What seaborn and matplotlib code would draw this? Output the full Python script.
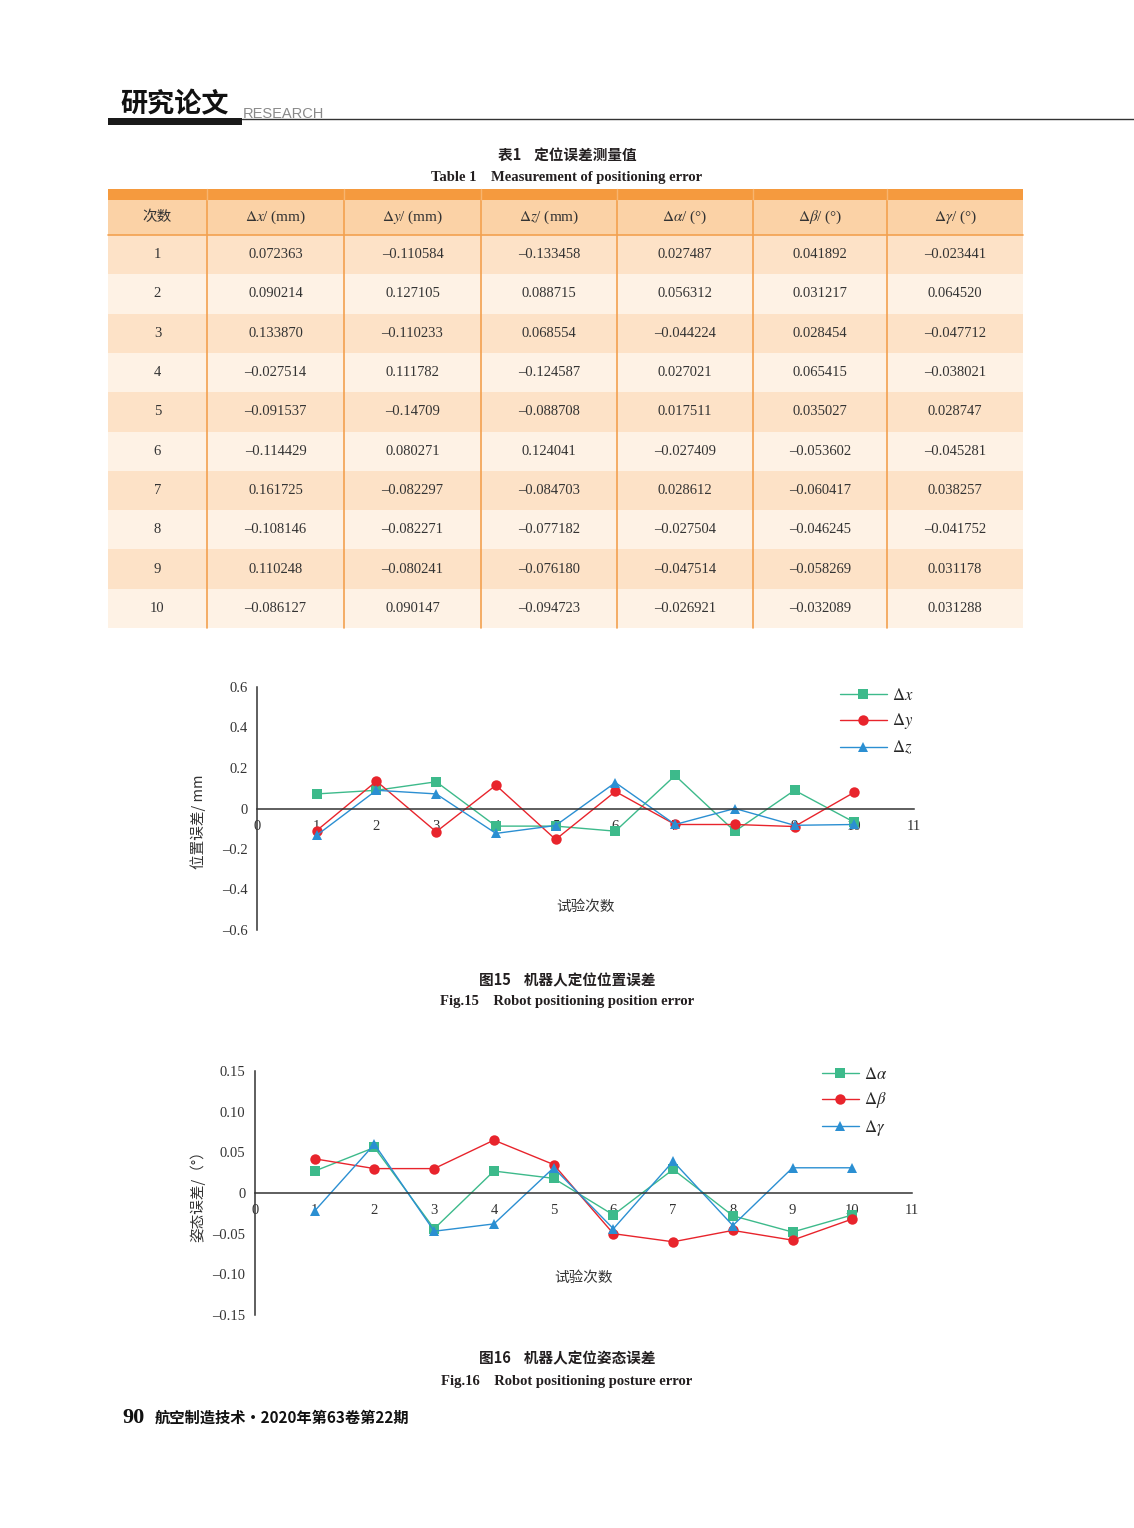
import numpy as np
import pandas as pd
import seaborn as sns
import matplotlib.pyplot as plt
from matplotlib.patches import Rectangle
from matplotlib.ticker import FuncFormatter

sns.set_style('white')
plt.rcParams['font.family'] = ['Liberation Serif', 'Noto Sans CJK SC', 'DejaVu Sans']
plt.rcParams['mathtext.fontset'] = 'stix'
plt.rcParams['axes.unicode_minus'] = False

CJK = ['Noto Sans CJK SC', 'DejaVu Sans']
SERIF = ['Liberation Serif', 'Noto Sans CJK SC']

# ---- table 1 data (as printed) ----
runs = ['1', '2', '3', '4', '5', '6', '7', '8', '9', '10']
dx_tab = ['0.072363', '0.090214', '0.133870', '–0.027514', '–0.091537',
          '–0.114429', '0.161725', '–0.108146', '0.110248', '–0.086127']
dy_tab = ['–0.110584', '0.127105', '–0.110233', '0.111782', '–0.14709',
          '0.080271', '–0.082297', '–0.082271', '–0.080241', '0.090147']
dz_tab = ['–0.133458', '0.088715', '0.068554', '–0.124587', '–0.088708',
          '0.124041', '–0.084703', '–0.077182', '–0.076180', '–0.094723']
da_tab = ['0.027487', '0.056312', '–0.044224', '0.027021', '0.017511',
          '–0.027409', '0.028612', '–0.027504', '–0.047514', '–0.026921']
db_tab = ['0.041892', '0.031217', '0.028454', '0.065415', '0.035027',
          '–0.053602', '–0.060417', '–0.046245', '–0.058269', '–0.032089']
dg_tab = ['–0.023441', '0.064520', '–0.047712', '–0.038021', '0.028747',
          '–0.045281', '0.038257', '–0.041752', '0.031178', '0.031288']
col_heads = ['次数', r'$\Delta x$/ (mm)', r'$\Delta y$/ (mm)', r'$\Delta z$/ (mm)',
             r'$\Delta\alpha$/ (°)', r'$\Delta\beta$/ (°)', r'$\Delta\gamma$/ (°)']

# ---- figure 15 / 16 data ----
trials = [1, 2, 3, 4, 5, 6, 7, 8, 9, 10]
pos_dx = [0.072, 0.090, 0.132, -0.087, -0.087, -0.112, 0.163, -0.113, 0.090, -0.068]
pos_dy = [-0.109, 0.135, -0.115, 0.115, -0.153, 0.084, -0.079, -0.079, -0.089, 0.080]
pos_dz = [-0.132, 0.090, 0.072, -0.123, -0.084, 0.128, -0.079, 0.000, -0.083, -0.079]
att_da = [0.027, 0.056, -0.044, 0.027, 0.018, -0.027, 0.029, -0.028, -0.048, -0.027]
att_db = [0.042, 0.030, 0.030, 0.065, 0.035, -0.050, -0.060, -0.046, -0.058, -0.032]
att_dg = [-0.022, 0.060, -0.047, -0.038, 0.031, -0.044, 0.039, -0.040, 0.031, 0.031]

GREEN, RED, BLUE = '#3dba8b', '#e8242c', '#2b8fd2'
TXT = '#231f20'

W, H = 1134, 1528
fig = plt.figure(figsize=(W / 100, H / 100), dpi=100)
page = fig.add_axes([0, 0, 1, 1])
page.set_xlim(0, W)
page.set_ylim(H, 0)
page.axis('off')

# header
page.text(120, 112, '研究论文', family=CJK, fontsize=19.5, fontweight='bold', color='#111')
page.text(243, 118, 'RESEARCH', family=['Liberation Sans'], fontsize=10.5, color='#8a8a8a')
page.add_patch(Rectangle((108, 118), 134, 7, color='#1a1a1a', lw=0))
page.plot([242, W], [118.5, 118.5], color='#333', lw=1)

# table title
page.text(567, 155, '表1    定位误差测量值', family=CJK, fontsize=10.5, fontweight='bold',
          ha='center', va='center', color=TXT)
page.text(567, 177, 'Table 1    Measurement of positioning error', family=SERIF, fontsize=10.5,
          fontweight='bold', ha='center', va='center', color=TXT)

# table
col_x = [108, 207, 344, 481, 617, 753, 887, 1023]
t_top, head_top, head_bot = 189, 200, 235
row_h = (628 - head_bot) / len(runs)
page.add_patch(Rectangle((col_x[0], t_top), col_x[-1] - col_x[0], head_top - t_top,
                         color='#f59a3e', lw=0))
page.add_patch(Rectangle((col_x[0], head_top), col_x[-1] - col_x[0], head_bot - head_top,
                         color='#fbd2a6', lw=0))
for i in range(len(runs)):
    y0 = head_bot + i * row_h
    page.add_patch(Rectangle((col_x[0], y0), col_x[-1] - col_x[0], row_h,
                             color='#fde2c7' if i % 2 == 0 else '#fef2e5', lw=0))
for xv in col_x[1:-1]:
    page.plot([xv, xv], [head_top, 628], color='#f3a14f', lw=1.2)
    page.plot([xv, xv], [t_top, head_top], color='#f8b46e', lw=1)
page.plot([col_x[0], col_x[-1]], [head_bot, head_bot], color='#f3a14f', lw=1.2)

for j, h in enumerate(col_heads):
    cx = (col_x[j] + col_x[j + 1]) / 2
    page.text(cx, (head_top + head_bot) / 2, h, family=SERIF if j else CJK,
              fontsize=11 if j else 10.5, ha='center', va='center', color='#333')
table_cols = [runs, dx_tab, dy_tab, dz_tab, da_tab, db_tab, dg_tab]
for j, col in enumerate(table_cols):
    cx = (col_x[j] + col_x[j + 1]) / 2
    for i, v in enumerate(col):
        page.text(cx, head_bot + (i + 0.5) * row_h, v, family=SERIF, fontsize=10.5,
                  ha='center', va='center', color='#333')


def fmt(v, pos, nd):
    if abs(v) < 1e-9:
        return '0'
    s = f'{v:.{nd}f}'
    return s.replace('-', '–')


def draw_chart(rect, series, names, lim, step, nd, ylabel, ylab_xy, xlab_y, leg_anchor, leg_len):
    ax = fig.add_axes(rect)
    ax.set_facecolor('none')
    df = pd.DataFrame({'trial': trials * 3,
                       'val': series[0] + series[1] + series[2],
                       'ser': [names[0]] * 10 + [names[1]] * 10 + [names[2]] * 10})
    sns.lineplot(data=df, x='trial', y='val', hue='ser', style='ser', ax=ax,
                 palette=[GREEN, RED, BLUE], markers=['s', 'o', '^'], dashes=False,
                 lw=1, markersize=7.5, markeredgewidth=0, legend='full')
    ax.set_xlim(0, 11)
    ax.set_ylim(-lim, lim)
    ax.set_xticks(range(0, 12))
    ax.set_yticks(np.round(np.arange(-lim, lim + step / 2, step), 4))
    ax.yaxis.set_major_formatter(FuncFormatter(lambda v, p: fmt(v, p, nd)))
    for s in ['top', 'right']:
        ax.spines[s].set_visible(False)
    ax.spines['bottom'].set_position(('data', 0))
    for s in ['left', 'bottom']:
        ax.spines[s].set_color('#333')
        ax.spines[s].set_linewidth(1.1)
    ax.tick_params(axis='both', direction='in', length=6, width=1.1, color='#333',
                   labelsize=10.5, labelcolor='#333')
    ax.tick_params(axis='x', pad=8)
    ax.tick_params(axis='y', pad=7)
    for lab in ax.get_xticklabels() + ax.get_yticklabels():
        lab.set_family(SERIF)
    ax.set_xlabel('')
    ax.set_ylabel(ylabel, family=CJK, fontsize=10.5, color='#333')
    ax.yaxis.set_label_coords(*ylab_xy)
    ax.text(5.5, xlab_y, '试验次数', family=CJK, fontsize=10.5, color='#333',
            ha='center', va='center')
    handles, labels = ax.get_legend_handles_labels()
    ax.legend(handles, labels, loc='upper left', bbox_to_anchor=leg_anchor,
              bbox_transform=fig.transFigure, frameon=False, fontsize=12,
              handlelength=leg_len, handletextpad=0.3, labelspacing=0.45,
              borderaxespad=0, borderpad=0)
    return ax


draw_chart([257 / W, 1 - 930 / H, 657 / W, 243 / H],
           [pos_dx, pos_dy, pos_dz],
           [r'$\Delta x$', r'$\Delta y$', r'$\Delta z$'],
           0.6, 0.2, 1, '位置误差/ mm', (-0.078, 0.445), -0.485,
           (840 / W, 1 - 688 / H), 2.8)

page.text(567, 980, '图15    机器人定位位置误差', family=CJK, fontsize=10.5, fontweight='bold',
          ha='center', va='center', color=TXT)
page.text(567, 1002, 'Fig.15    Robot positioning position error', family=SERIF, fontsize=10.5,
          fontweight='bold', ha='center', va='center', color=TXT)

draw_chart([255 / W, 1 - 1315 / H, 657 / W, 244 / H],
           [att_da, att_db, att_dg],
           [r'$\Delta\alpha$', r'$\Delta\beta$', r'$\Delta\gamma$'],
           0.15, 0.05, 2, '姿态误差/（°）', (-0.075, 0.5), -0.104,
           (822 / W, 1 - 1067 / H), 2.2)

page.text(567, 1358, '图16    机器人定位姿态误差', family=CJK, fontsize=10.5, fontweight='bold',
          ha='center', va='center', color=TXT)
page.text(567, 1382, 'Fig.16    Robot positioning posture error', family=SERIF, fontsize=10.5,
          fontweight='bold', ha='center', va='center', color=TXT)

# footer
page.text(122, 1418, '90', family=SERIF, fontsize=16, fontweight='bold', va='center', color='#111')
page.text(155, 1418, '航空制造技术·2020年第63卷第22期', family=CJK, fontsize=11,
          fontweight='bold', va='center', color='#111')

fig.savefig('out.png', dpi=100, facecolor='white')
